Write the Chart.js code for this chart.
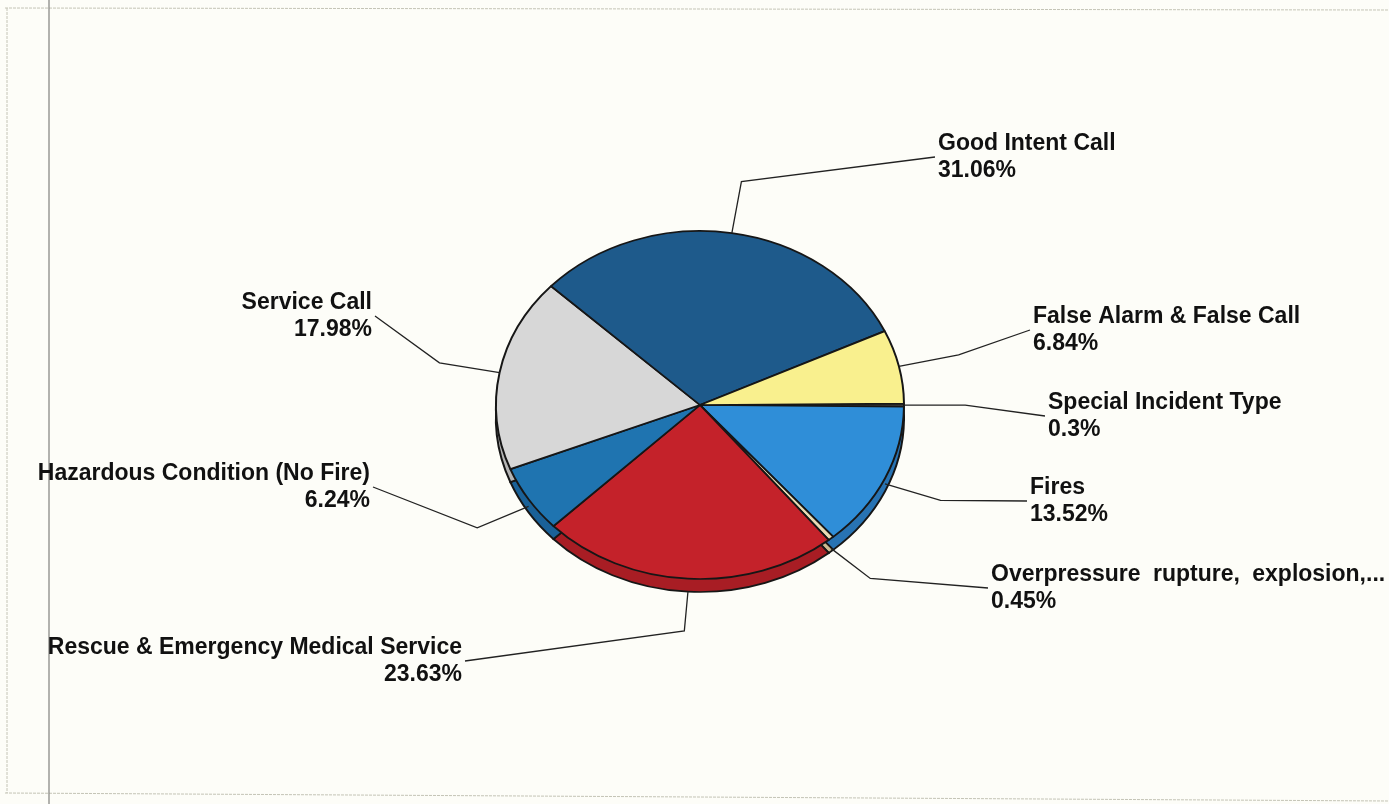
<!DOCTYPE html>
<html>
<head>
<meta charset="utf-8">
<script src="https://cdn.jsdelivr.net/npm/chart.js@4.4.0/dist/chart.umd.min.js"></script>
<style>
  html, body { margin: 0; padding: 0; background: #fdfdf8; }
  canvas { display: block; }
</style>
</head>
<body>
<canvas id="pie" width="1389" height="804"></canvas>
<script>
const categories = [
  "Special Incident Type",
  "Fires",
  "Overpressure rupture, explosion,...",
  "Rescue & Emergency Medical Service",
  "Hazardous Condition (No Fire)",
  "Service Call",
  "Good Intent Call",
  "False Alarm & False Call"
];
const percentages = [0.3, 13.52, 0.45, 23.63, 6.24, 17.98, 31.06, 6.84];
const pctLabels = ["0.3%", "13.52%", "0.45%", "23.63%", "6.24%", "17.98%", "31.06%", "6.84%"];

const sliceColors = ["#3a3a3a", "#2f8ed8", "#eadbb4", "#c4222a", "#1f74b0", "#d7d7d7", "#1e5a8b", "#f9f08e"];
const sideColors  = ["#2a2a2a", "#2873b3", "#cdbb90", "#a81d24", "#1a6198", "#b5b5b5", "#174a74", "#d9cf6e"];

// where each leader line ends, relative to the pie centre
const labelAnchors = [[345, 11], [327, 96], [288, 183], [-235, 256], [-327, 82], [-325, -89], [235, -248], [330, -75]];

const flat = 0.853;   // vertical squash of the tilted pie
const depth = 13;     // thickness of the pie side

function squash(ctx, a) {
  ctx.translate(a.x, a.y);
  ctx.scale(1, flat);
  ctx.translate(-a.x, -a.y);
}

const pagePlugin = {
  id: "page",
  beforeDraw(chart) {
    const ctx = chart.ctx;
    ctx.save();
    ctx.fillStyle = "#fdfdf8";
    ctx.fillRect(0, 0, chart.width, chart.height);
    ctx.strokeStyle = "#c4c4b6";
    ctx.lineWidth = 1;
    ctx.setLineDash([3, 1]);
    ctx.beginPath();
    ctx.moveTo(5, 8); ctx.lineTo(1389, 10);
    ctx.moveTo(7, 8); ctx.lineTo(7, 793);
    ctx.moveTo(5, 793); ctx.lineTo(1389, 801);
    ctx.stroke();
    ctx.setLineDash([]);
    ctx.strokeStyle = "#8a8a86";
    ctx.lineWidth = 1.3;
    ctx.beginPath();
    ctx.moveTo(49, 0); ctx.lineTo(49, 804);
    ctx.stroke();
    ctx.restore();
  }
};

const tiltPlugin = {
  id: "tilt",
  beforeDatasetsDraw(chart) {
    const ctx = chart.ctx;
    const arcs = chart.getDatasetMeta(0).data;
    // side wall: the slices pushed down and darkened
    arcs.forEach((a, i) => {
      ctx.save();
      ctx.translate(0, depth);
      squash(ctx, a);
      ctx.beginPath();
      ctx.moveTo(a.x, a.y);
      ctx.arc(a.x, a.y, a.outerRadius, a.startAngle, a.endAngle);
      ctx.closePath();
      ctx.fillStyle = sideColors[i];
      ctx.fill();
      ctx.lineWidth = 2;
      ctx.strokeStyle = "#161616";
      ctx.stroke();
      ctx.restore();
    });
    ctx.save();
    squash(ctx, arcs[0]);
  },
  afterDatasetsDraw(chart) {
    chart.ctx.restore();
  },
  afterDraw(chart) {
    const ctx = chart.ctx;
    const arcs = chart.getDatasetMeta(0).data;
    ctx.save();
    ctx.font = 'bold 23px "Liberation Sans", Arial, sans-serif';
    ctx.textBaseline = "middle";
    ctx.lineWidth = 1.3;
    ctx.strokeStyle = "#222222";
    ctx.fillStyle = "#111111";
    arcs.forEach((a, i) => {
      const mid = (a.startAngle + a.endAngle) / 2;
      const c = Math.cos(mid), s = Math.sin(mid);
      const r = a.outerRadius;
      const x0 = a.x + r * c;
      const y0 = a.y + flat * r * s + (s > 0.3 ? depth * s : 0);
      const x1 = a.x + 1.3 * r * c;
      const y1 = a.y + 1.3 * flat * r * s;
      const ax = a.x + labelAnchors[i][0];
      const ay = a.y + labelAnchors[i][1];
      ctx.beginPath();
      ctx.moveTo(x0, y0);
      ctx.lineTo(x1, y1);
      ctx.lineTo(ax, ay);
      ctx.stroke();

      const right = labelAnchors[i][0] > 0;
      ctx.textAlign = right ? "left" : "right";
      const tx = right ? ax + 3 : ax - 3;
      ctx.wordSpacing = categories[i].startsWith("Overpressure") ? "6px" : "0px";
      ctx.fillText(categories[i], tx, ay - 13.5);
      ctx.wordSpacing = "0px";
      ctx.fillText(pctLabels[i], tx, ay + 13.5);
    });
    ctx.restore();
  }
};

new Chart(document.getElementById("pie").getContext("2d"), {
  type: "pie",
  data: {
    labels: categories,
    datasets: [{
      data: percentages,
      backgroundColor: sliceColors,
      borderColor: "#161616",
      borderWidth: 2,
      hoverOffset: 0
    }]
  },
  options: {
    responsive: false,
    animation: false,
    rotation: 89.5,
    layout: { padding: { left: 495, right: 484, top: 200, bottom: 194 } },
    plugins: {
      legend: { display: false },
      tooltip: { enabled: false }
    }
  },
  plugins: [pagePlugin, tiltPlugin]
});
</script>
</body>
</html>
